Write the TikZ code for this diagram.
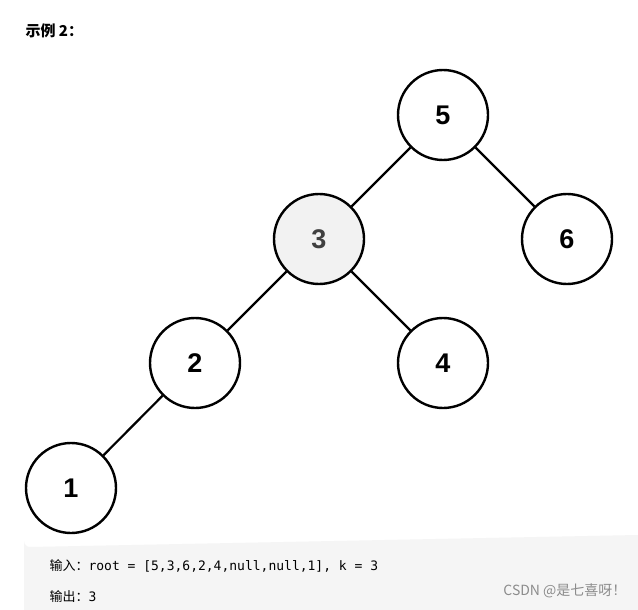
\documentclass[tikz,border=0pt]{standalone}
\usepackage{fontspec}
\setmainfont{Liberation Sans}
\newfontfamily\cjk{Noto Sans CJK SC}
\setmonofont{DejaVu Sans Mono}
\begin{document}
\begin{tikzpicture}[x=1pt,y=-1pt,
  tn/.style={circle,draw,line width=2.4pt,minimum size=90pt,inner sep=0pt,font=\fontsize{27}{27}\selectfont\bfseries},
  edge/.style={line width=2.2pt}]
\useasboundingbox (0,0) rectangle (638,610);
\fill[white] (0,0) rectangle (638,610);
\node[anchor=west,font=\cjk\fontsize{15}{15}\selectfont\bfseries] (title) at (22,31) {示例 2：};
\node[tn] (n5) at (443,115) {5};
\node[tn,fill=black!5,text=black!75] (n3) at (319,239) {3};
\node[tn] (n6) at (567,239) {6};
\node[tn] (n2) at (195,363) {2};
\node[tn] (n4) at (443,363) {4};
\node[tn] (n1) at (71,488) {1};
\draw[edge] (n5) -- (n3);
\draw[edge] (n5) -- (n6);
\draw[edge] (n3) -- (n2);
\draw[edge] (n3) -- (n4);
\draw[edge] (n2) -- (n1);
\fill[black!4] (24,610) -- (24,541) arc[start angle=180,end angle=90,radius=6] -- (638,535) -- (638,610) -- cycle;
\node[anchor=west,font=\fontsize{13}{13}\selectfont] (l1) at (46,566) {{\cjk 输入：}\texttt{root = [5,3,6,2,4,null,null,1], k = 3}};
\node[anchor=west,font=\fontsize{13}{13}\selectfont] (l2) at (46,597) {{\cjk 输出：}\texttt{3}};
\node[anchor=east,font=\cjk\fontsize{14}{14}\selectfont,text=black!45] (wm) at (630,591) {CSDN @是七喜呀！};
\end{tikzpicture}
\end{document}
